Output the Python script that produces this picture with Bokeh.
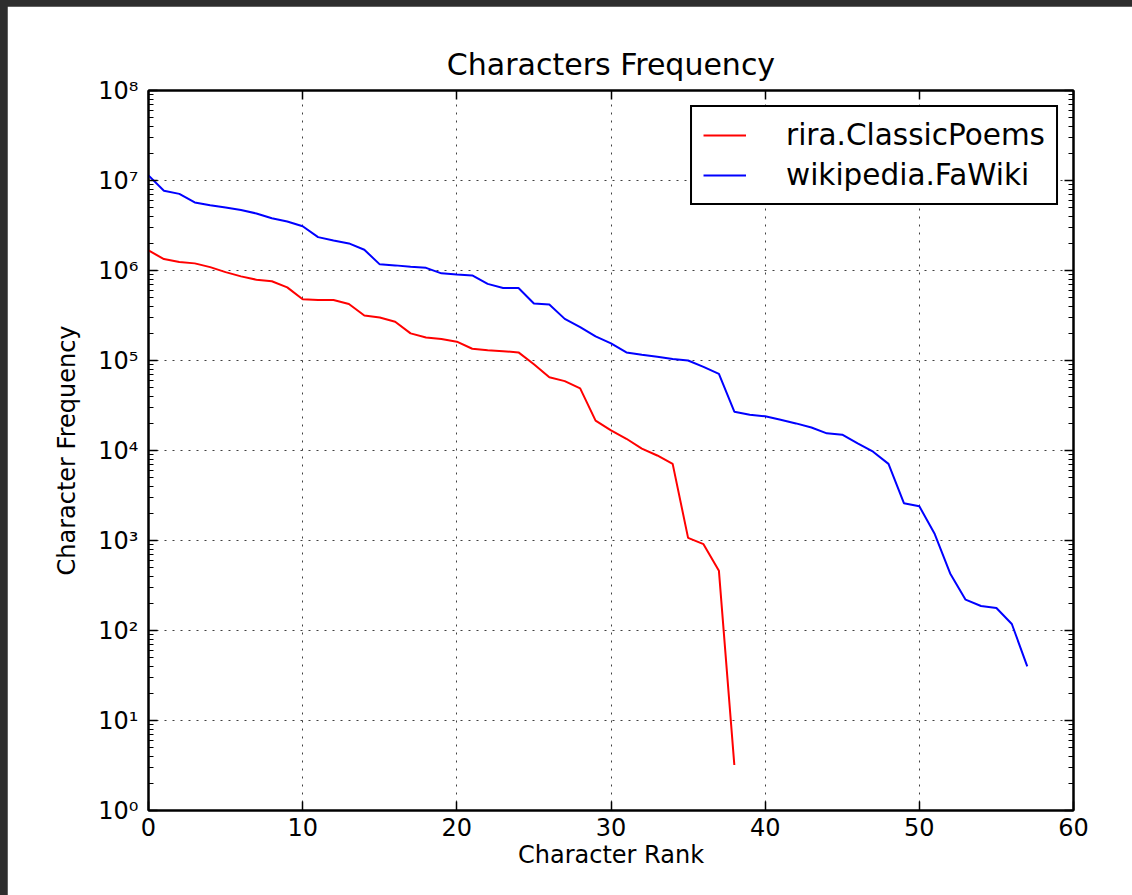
from bokeh.plotting import figure
from bokeh.models import (Range1d, FixedTicker, LinearAxis, LogAxis,
                          CustomJSTickFormatter, GlobalInlineStyleSheet)
from bokeh.embed import file_html
from bokeh.resources import INLINE

# ---- data ----
red_name = "rira.ClassicPoems"
red_rank = list(range(39))
red_freq = [1.67e6, 1.34e6, 1.24e6, 1.20e6, 1.09e6, 9.6e5, 8.6e5, 7.9e5, 7.6e5, 6.5e5,
            4.8e5, 4.7e5, 4.7e5, 4.25e5, 3.16e5, 3.0e5, 2.7e5, 2.0e5, 1.8e5, 1.73e5,
            1.62e5, 1.35e5, 1.30e5, 1.27e5, 1.23e5, 9.1e4, 6.5e4, 5.9e4, 4.9e4, 2.15e4,
            1.67e4, 1.35e4, 1.05e4, 8.8e3, 7.1e3, 1.07e3, 9.1e2, 4.6e2, 3.2]

blue_name = "wikipedia.FaWiki"
blue_rank = list(range(58))
blue_freq = [1.14e7, 7.7e6, 7.1e6, 5.7e6, 5.3e6, 5.0e6, 4.7e6, 4.3e6, 3.8e6, 3.5e6,
             3.1e6, 2.35e6, 2.15e6, 2.0e6, 1.7e6, 1.17e6, 1.14e6, 1.10e6, 1.07e6, 9.3e5,
             9.0e5, 8.8e5, 7.1e5, 6.4e5, 6.4e5, 4.3e5, 4.2e5, 2.9e5, 2.35e5, 1.85e5,
             1.55e5, 1.23e5, 1.16e5, 1.10e5, 1.04e5, 1.0e5, 8.5e4, 7.1e4, 2.7e4, 2.5e4,
             2.4e4, 2.2e4, 2.0e4, 1.8e4, 1.55e4, 1.5e4, 1.2e4, 9.7e3, 7.1e3, 2.6e3,
             2.4e3, 1.18e3, 4.3e2, 2.2e2, 1.87e2, 1.78e2, 1.18e2, 40]

x_ticks = [0, 10, 20, 30, 40, 50, 60]
y_ticks = [1, 10, 100, 1e3, 1e4, 1e5, 1e6, 1e7, 1e8]
y_tick_labels = ["10\u2070", "10\u00b9", "10\u00b2", "10\u00b3", "10\u2074",
                 "10\u2075", "10\u2076", "10\u2077", "10\u2078"]
y_minor_ticks = [m * 10 ** k for k in range(8) for m in range(2, 10)]

title_text = "Characters Frequency"
x_label = "Character Rank"
y_label = "Character Frequency"

FONT = "DejaVu Sans"

p = figure(width=1125, height=889, output_backend="svg", toolbar_location=None,
           x_range=Range1d(0, 60), y_range=Range1d(1, 1e8), y_axis_type="log",
           min_border_left=141, min_border_right=59, min_border_top=84,
           min_border_bottom=85, title=title_text)

p.stylesheets = [GlobalInlineStyleSheet(
    css="body { background: #2e2e2e; padding: 6px 0 0 7px !important; overflow: hidden; }")]
p.background_fill_color = "white"
p.border_fill_color = "white"
p.outline_line_color = "black"
p.outline_line_width = 2

p.title.text_font = FONT
p.title.text_font_size = "30px"
p.title.text_font_style = "normal"
p.title.text_color = "black"
p.title.align = "center"
p.title.standoff = 17

p.line(red_rank, red_freq, line_color="red", line_width=2, legend_label=red_name)
p.line(blue_rank, blue_freq, line_color="blue", line_width=2, legend_label=blue_name)

ylab_fmt = CustomJSTickFormatter(args=dict(labels=y_tick_labels),
                                 code="return labels[Math.round(Math.log10(tick))];")
blank_fmt = CustomJSTickFormatter(code="return '';")


def style_axis(ax):
    ax.axis_line_color = "black"
    ax.axis_line_width = 2
    ax.major_tick_line_color = "black"
    ax.major_tick_line_width = 1.5
    ax.minor_tick_line_color = "black"
    ax.minor_tick_line_width = 1.2
    ax.major_tick_in = 9
    ax.major_tick_out = 0
    ax.major_label_text_font = FONT
    ax.major_label_text_font_size = "24px"
    ax.major_label_text_color = "black"
    ax.axis_label_text_font = FONT
    ax.axis_label_text_font_size = "24px"
    ax.axis_label_text_font_style = "normal"
    ax.axis_label_text_color = "black"


xa = p.xaxis[0]
xa.ticker = FixedTicker(ticks=x_ticks)
style_axis(xa)
xa.minor_tick_in = 0
xa.minor_tick_out = 0
xa.major_label_standoff = 7
xa.axis_label = x_label
xa.axis_label_standoff = 2

ya = p.yaxis[0]
ya.ticker = FixedTicker(ticks=y_ticks, minor_ticks=y_minor_ticks)
ya.formatter = ylab_fmt
style_axis(ya)
ya.minor_tick_in = 5
ya.minor_tick_out = 0
ya.major_label_standoff = 10
ya.axis_label = y_label
ya.axis_label_standoff = 14

top = LinearAxis(ticker=FixedTicker(ticks=x_ticks), formatter=blank_fmt)
style_axis(top)
top.minor_tick_in = 0
top.minor_tick_out = 0
top.major_label_standoff = 0
p.add_layout(top, "above")

right = LogAxis(ticker=FixedTicker(ticks=y_ticks, minor_ticks=y_minor_ticks),
                formatter=blank_fmt)
style_axis(right)
right.minor_tick_in = 5
right.minor_tick_out = 0
right.major_label_standoff = 0
p.add_layout(right, "right")

p.xgrid.ticker = FixedTicker(ticks=x_ticks)
p.ygrid.ticker = FixedTicker(ticks=y_ticks)
for g in (p.xgrid[0], p.ygrid[0]):
    g.grid_line_color = "black"
    g.grid_line_alpha = 0.75
    g.grid_line_width = 1
    g.grid_line_dash = "2 6"
p.ygrid[0].minor_grid_line_color = None

lg = p.legend[0]
lg.location = "top_right"
lg.margin = 15
lg.padding = 11
lg.spacing = 6
lg.glyph_width = 43
lg.glyph_height = 20
lg.label_standoff = 40
lg.label_text_font = FONT
lg.label_text_font_size = "29.5px"
lg.label_text_color = "black"
lg.border_line_color = "black"
lg.border_line_alpha = 1.0
lg.border_line_width = 2
lg.background_fill_color = "white"
lg.background_fill_alpha = 1.0

open("out.html", "w").write(file_html(p, INLINE))
